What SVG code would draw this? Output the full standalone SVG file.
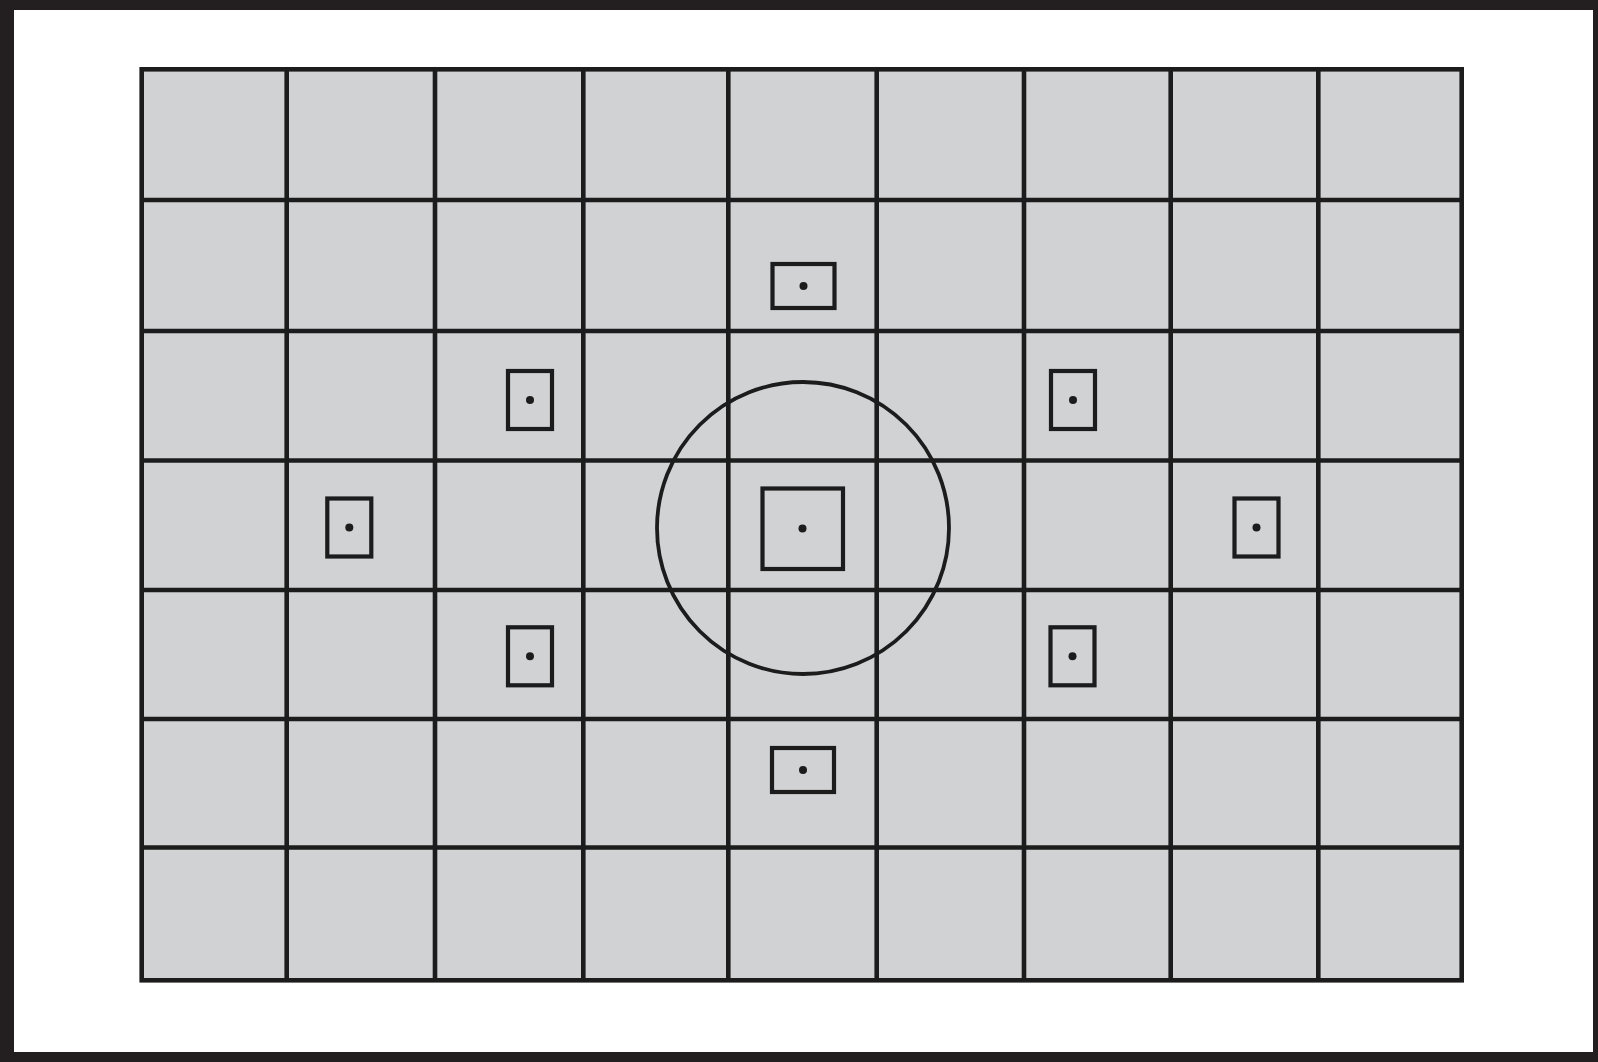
<svg xmlns="http://www.w3.org/2000/svg" width="1598" height="1062" viewBox="0 0 1598 1062">
  <style>
    .ln { stroke: #1c1c1c; stroke-width: 4.6; fill: none; }
    .bx { stroke: #1c1c1c; stroke-width: 4.2; fill: none; }
    .dot { fill: #1c1c1c; }
  </style>
  <defs>
    <g id="vbox">
      <rect class="bx" x="-22" y="-29" width="44" height="58"/>
      <circle class="dot" r="4"/>
    </g>
    <g id="hbox">
      <rect class="bx" x="-31" y="-22" width="62" height="44"/>
      <circle class="dot" r="4"/>
    </g>
  </defs>
  <g id="frame">
    <rect x="0" y="0" width="1598" height="1062" fill="#231f20"/>
    <rect x="14" y="10" width="1579" height="1042" fill="#ffffff"/>
  </g>
  <g id="grid">
    <rect x="141.7" y="69.3" width="1320" height="911" fill="#d0d2d4"/>
    <g class="ln">
      <line x1="286.7" y1="69.3" x2="286.7" y2="980.3"/>
      <line x1="435" y1="69.3" x2="435" y2="980.3"/>
      <line x1="583.3" y1="69.3" x2="583.3" y2="980.3"/>
      <line x1="728.3" y1="69.3" x2="728.3" y2="980.3"/>
      <line x1="876.7" y1="69.3" x2="876.7" y2="980.3"/>
      <line x1="1024" y1="69.3" x2="1024" y2="980.3"/>
      <line x1="1170.7" y1="69.3" x2="1170.7" y2="980.3"/>
      <line x1="1318.3" y1="69.3" x2="1318.3" y2="980.3"/>
      <line x1="141.7" y1="200" x2="1461.7" y2="200"/>
      <line x1="141.7" y1="331" x2="1461.7" y2="331"/>
      <line x1="141.7" y1="460.5" x2="1461.7" y2="460.5"/>
      <line x1="141.7" y1="590" x2="1461.7" y2="590"/>
      <line x1="141.7" y1="719" x2="1461.7" y2="719"/>
      <line x1="141.7" y1="847.5" x2="1461.7" y2="847.5"/>
      <rect x="141.7" y="69.3" width="1320" height="911"/>
    </g>
  </g>
  <g id="metering-circle">
    <circle cx="803" cy="528" r="146" fill="none" stroke="#1c1c1c" stroke-width="3.8"/>
  </g>
  <g id="af-center">
    <rect class="bx" x="762.5" y="488.5" width="80.5" height="80.5"/>
    <circle class="dot" cx="802.5" cy="528.5" r="4"/>
  </g>
  <g id="af-top"><use href="#hbox" x="803.5" y="286"/></g>
  <g id="af-bottom"><use href="#hbox" x="803" y="770"/></g>
  <g id="af-upper-left"><use href="#vbox" x="530" y="400"/></g>
  <g id="af-upper-right"><use href="#vbox" x="1073" y="400"/></g>
  <g id="af-left"><use href="#vbox" x="349.3" y="527.5"/></g>
  <g id="af-right"><use href="#vbox" x="1256.5" y="527.5"/></g>
  <g id="af-lower-left"><use href="#vbox" x="530" y="656.3"/></g>
  <g id="af-lower-right"><use href="#vbox" x="1072.5" y="656.3"/></g>
</svg>
